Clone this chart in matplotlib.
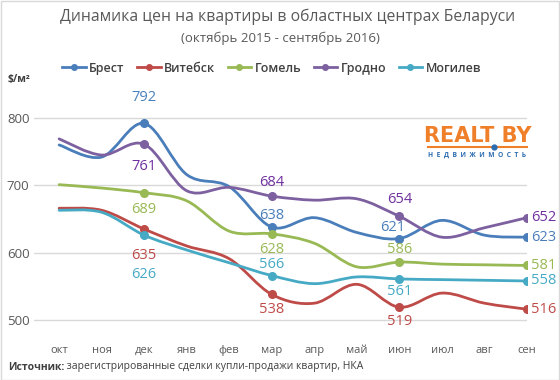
import matplotlib.pyplot as plt
import numpy as np
from matplotlib.path import Path
from matplotlib.patches import PathPatch, Rectangle
from matplotlib.lines import Line2D

plt.rcParams['font.family'] = ['Open Sans', 'DejaVu Sans']

months = ['окт', 'ноя', 'дек', 'янв', 'фев', 'мар', 'апр', 'май', 'июн', 'июл', 'авг', 'сен']
cities = ['Брест', 'Витебск', 'Гомель', 'Гродно', 'Могилев']
brest = [760, 742, 792, 716, 698, 638, 652, 630, 621, 648, 626, 623]
vitebsk = [666, 663, 635, 610, 591, 538, 525, 553, 519, 540, 525, 516]
gomel = [701, 696, 689, 677, 632, 628, 614, 579, 586, 583, 582, 581]
grodno = [769, 745, 761, 692, 697, 684, 678, 680, 654, 623, 637, 652]
mogilev = [663, 660, 626, 604, 585, 566, 554, 564, 561, 560, 559, 558]
series = [brest, vitebsk, gomel, grodno, mogilev]

line_colors = ['#4a7ebb', '#be4b48', '#98b954', '#7d60a0', '#46aac5']
text_colors = ['#4a7ebb', '#be4b48', '#98b954', '#7030a0', '#46aac5']
marked = [2, 5, 8, 11]

# label offsets (dx, dy in points) for dec, mar, jun
offsets = {
    0: [(0, 19), (0, 8), (-5, 8)],
    1: [(0, -19), (0, -11), (0, -10)],
    2: [(0, -12), (0, -11), (0, 9)],
    3: [(0, -16), (0, 10), (0, 12)],
    4: [(0, -28), (0, 8), (0, -9)],
}


def smooth_path(xs, ys):
    # Excel-like smoothed line as cubic bezier segments
    pts = np.column_stack([xs, ys]).astype(float)
    n = len(pts)
    verts = [pts[0]]
    codes = [Path.MOVETO]
    for i in range(n - 1):
        p0 = pts[i - 1] if i > 0 else pts[i]
        p1, p2 = pts[i], pts[i + 1]
        p3 = pts[i + 2] if i + 2 < n else pts[i + 1]
        verts += [p1 + (p2 - p0) / 6, p2 - (p3 - p1) / 6, p2]
        codes += [Path.CURVE4] * 3
    return Path(verts, codes)


fig = plt.figure(figsize=(5.6, 3.8), dpi=100)
ax = fig.add_axes([0.06, 0.1224, 0.881, 0.6202])
x = np.arange(len(months))

for i, vals in enumerate(series):
    ax.add_patch(PathPatch(smooth_path(x, vals), fill=False, edgecolor=line_colors[i],
                           lw=2.0, capstyle='round', zorder=3))
    mx = [x[j] for j in marked]
    my = [vals[j] for j in marked]
    ax.plot(mx, my, 'o', color=line_colors[i], ms=5.5, zorder=4)
    for k, j in enumerate(marked[:3]):
        dx, dy = offsets[i][k]
        ax.annotate(str(vals[j]), (x[j], vals[j]), xytext=(dx, dy), textcoords='offset points',
                    ha='center', va='center', fontsize=10.5, color=text_colors[i], zorder=5)
    ax.annotate(str(vals[11]), (x[11], vals[11]), xytext=(3, 0), textcoords='offset points',
                ha='left', va='center', fontsize=10.5, color=text_colors[i],
                annotation_clip=False, zorder=5)

ax.set_xlim(-0.6, 11.0)
ax.set_ylim(480, 830)
ax.set_yticks([500, 600, 700, 800])
ax.set_xticks(x)
ax.set_xticklabels(months)
ax.grid(axis='y', color='#d9d9d9', lw=1)
ax.set_axisbelow(True)
for s in ax.spines.values():
    s.set_visible(False)
ax.tick_params(length=0)
ax.tick_params(axis='y', labelsize=9.5, labelcolor='#595959', pad=3)
ax.tick_params(axis='x', labelsize=8, labelcolor='#595959', pad=8)

fig.text(0.513, 0.955, 'Динамика цен на квартиры в областных центрах Беларуси',
         ha='center', va='center', fontsize=11.3, color='#595959')
fig.text(0.5, 0.9, '(октябрь 2015 - сентябрь 2016)',
         ha='center', va='center', fontsize=9.5, color='#595959')
fig.text(0.014, 0.792, '$/м²', ha='left', va='center', fontsize=7.5,
         fontweight='bold', color='#404040')

handles = [Line2D([0, 0.5, 1], [0, 0, 0], color=c, lw=2, marker='o', ms=4, markevery=[1])
           for c in line_colors]
fig.legend(handles, cities, loc='center', bbox_to_anchor=(0.485, 0.821), ncol=5,
           frameon=False, handlelength=1.9, handletextpad=0.25,
           columnspacing=1.0, labelcolor='#404040', prop={'weight': 'semibold', 'size': 9})

# logo
fig.text(0.8536, 1 - 136 / 380, 'REALT BY', ha='center', va='center', fontsize=15,
         fontweight='bold', color='#f07f2a', family='Liberation Sans Narrow')
fig.add_artist(Line2D([428 / 560, 527 / 560], [1 - 147 / 380] * 2, color='#f07f2a', lw=1.5))
fig.add_artist(Line2D([494 / 560], [1 - 147 / 380], marker='o', ms=3.5, color='#2b6cb0'))
fig.text(477 / 560, 1 - 155 / 380, 'Н  Е  Д  В  И  Ж  И  М  О  С  Т  Ь', ha='center',
         va='center', fontsize=4.8, fontweight='bold', color='#2b6cb0')

# source line: bold prefix, regular rest
src = fig.text(0.014, 1 - 367 / 380, 'Источник:', ha='left', va='center', fontsize=7.5,
               fontweight='bold', color='#404040')
ax.annotate(' зарегистрированные сделки купли-продажи квартир, НКА', xy=(1, 0.5),
            xycoords=src, ha='left', va='center', fontsize=7.5, color='#404040',
            annotation_clip=False)

fig.add_artist(Rectangle((0.001, 0.001), 0.997, 0.997, transform=fig.transFigure,
                         fill=False, edgecolor='#d9d9d9', lw=1))

fig.savefig('out.png', dpi=100)
